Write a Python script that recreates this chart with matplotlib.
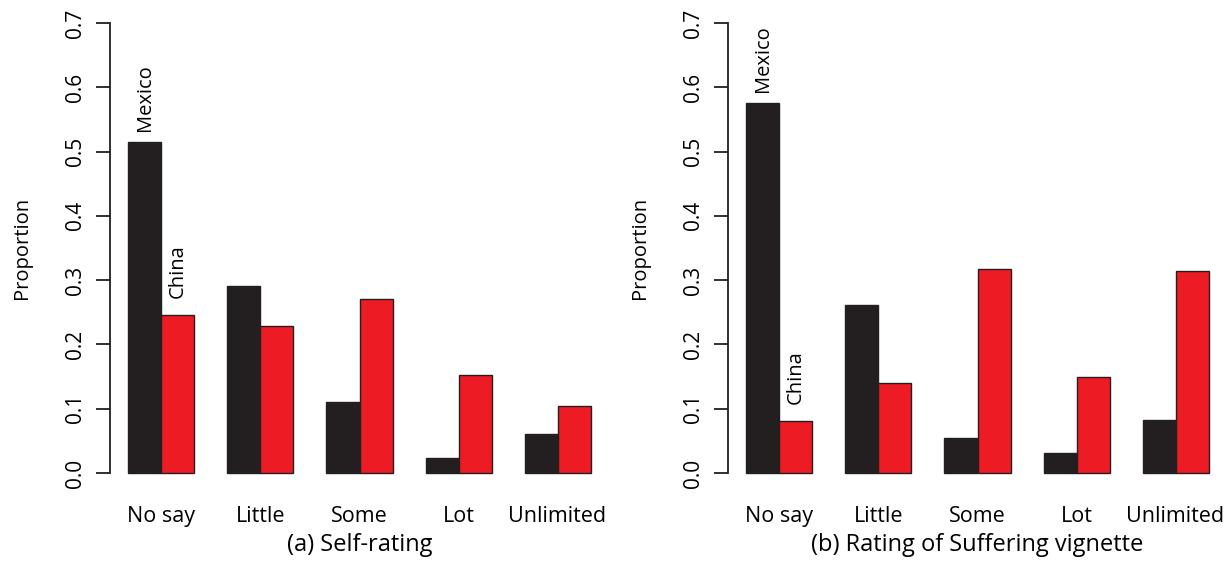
import numpy as np
import matplotlib
matplotlib.use('Agg')
import matplotlib.pyplot as plt

plt.rcParams['font.family'] = ['Open Sans', 'DejaVu Sans']

categories = ['No say', 'Little', 'Some', 'Lot', 'Unlimited']
self_mexico = [0.515, 0.291, 0.111, 0.024, 0.061]
self_china = [0.246, 0.228, 0.270, 0.152, 0.104]
vig_mexico = [0.576, 0.261, 0.055, 0.031, 0.082]
vig_china = [0.081, 0.140, 0.317, 0.150, 0.314]
yticks = [0.0, 0.1, 0.2, 0.3, 0.4, 0.5, 0.6, 0.7]
titles = ['(a) Self-rating', '(b) Rating of Suffering vignette']

black = '#231f20'
red = '#ed1c24'

def panel(ax, mex, chi, title):
    n = len(categories)
    # R style barplot positions: width 1, space 1 between groups
    left = np.arange(n) * 3 + 1
    ax.bar(left, mex, width=1, align='edge', color=black, edgecolor=black, linewidth=1)
    ax.bar(left + 1, chi, width=1, align='edge', color=red, edgecolor=black, linewidth=1)
    ax.set_xlim(0.44, 15.56)
    ax.set_ylim(-0.028, 0.728)
    for s in ['top', 'right', 'bottom']:
        ax.spines[s].set_visible(False)
    ax.spines['left'].set_bounds(0, 0.7)
    ax.spines['left'].set_linewidth(1.3)
    ax.spines['left'].set_color('#231f20')
    ax.set_yticks(yticks)
    ax.set_yticklabels(['%.1f' % v for v in yticks], rotation=90, va='center')
    ax.tick_params(axis='y', length=10, width=1.3, color='#231f20', pad=7, labelsize=15)
    ax.set_xticks(left + 1)
    ax.set_xticklabels(categories)
    ax.tick_params(axis='x', length=0, pad=11, labelsize=15.5)
    ax.set_ylabel('Proportion', fontsize=14.5, labelpad=24)
    ax.set_xlabel(title, fontsize=17, labelpad=4)
    ax.annotate('Mexico', (left[0] + 0.5, mex[0]), xytext=(0, 8), textcoords='offset points',
                rotation=90, ha='center', va='bottom', fontsize=14.5)
    ax.annotate('China', (left[0] + 1.5, chi[0]), xytext=(0, 12), textcoords='offset points',
                rotation=90, ha='center', va='bottom', fontsize=14.5)

fig = plt.figure(figsize=(12.3, 5.67), dpi=100)
ax1 = fig.add_axes([110 / 1230, 76 / 567, 499 / 1230, 486 / 567])
ax2 = fig.add_axes([728 / 1230, 76 / 567, 499 / 1230, 486 / 567])
panel(ax1, self_mexico, self_china, titles[0])
panel(ax2, vig_mexico, vig_china, titles[1])

fig.savefig('out.png', dpi=100)
